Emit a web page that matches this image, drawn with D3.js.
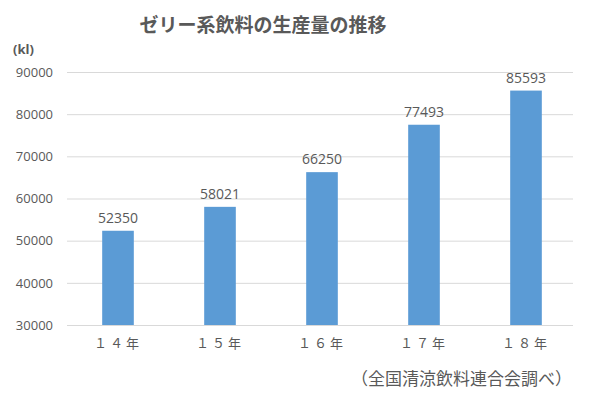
<!DOCTYPE html>
<html>
<head>
<meta charset="utf-8">
<script src="https://cdn.jsdelivr.net/npm/d3@7"></script>
<style>
  body { margin: 0; background: #fff; }
  text { font-family: "Noto Sans CJK JP", "Noto Sans", sans-serif; fill: #595959; }
</style>
</head>
<body>
<div class="chart"></div>
<script>
// data
var years = ["１４年", "１５年", "１６年", "１７年", "１８年"];
var volumes = [52350, 58021, 66250, 77493, 85593];
var yTicks = [30000, 40000, 50000, 60000, 70000, 80000, 90000];

var width = 600, height = 393;

var svg = d3.select(".chart").append("svg")
    .attr("width", width)
    .attr("height", height);

var data = years.map(function(y, i) { return {year: y, value: volumes[i]}; });

// scales
var x = d3.scaleBand()
    .range([67, 577])
    .domain(years)
    .paddingInner(0.69)
    .paddingOuter(0.345);

var y = d3.scaleLinear()
    .range([325, 72])
    .domain([30000, 90000]);

// gridlines
svg.append("g")
    .selectAll("line")
    .data(yTicks)
    .enter().append("line")
    .attr("x1", 67)
    .attr("x2", 573)
    .attr("y1", function(d) { return y(d) + 0.5; })
    .attr("y2", function(d) { return y(d) + 0.5; })
    .attr("stroke", "#d9d9d9")
    .attr("stroke-width", 1);

// y axis labels
var yAxis = svg.append("g")
    .attr("transform", "translate(60,0)")
    .call(d3.axisLeft(y).tickValues(yTicks).tickSize(0).tickPadding(7).tickFormat(d3.format("d")));
yAxis.select(".domain").remove();
yAxis.selectAll("text")
    .style("font-family", "'Open Sans', 'Noto Sans', sans-serif")
    .style("font-size", "13px")
    .attr("fill", "#595959");

// bars
svg.append("g")
    .selectAll("rect")
    .data(data)
    .enter().append("rect")
    .attr("x", function(d) { return x(d.year); })
    .attr("y", function(d) { return y(d.value); })
    .attr("width", x.bandwidth())
    .attr("height", function(d) { return y(30000) - y(d.value); })
    .attr("fill", "#5b9bd5");

// value labels
svg.append("g")
    .selectAll("text")
    .data(data)
    .enter().append("text")
    .attr("x", function(d) { return x(d.year) + x.bandwidth() / 2; })
    .attr("y", function(d) { return y(d.value) - 8; })
    .attr("text-anchor", "middle")
    .style("font-family", "'Open Sans', 'Noto Sans', sans-serif")
    .style("font-size", "14px")
    .attr("fill", "#404040")
    .text(function(d) { return d.value; });

// x axis labels
var xAxis = svg.append("g")
    .attr("transform", "translate(0,325)")
    .call(d3.axisBottom(x).tickSize(0).tickPadding(14));
xAxis.select(".domain").remove();
xAxis.selectAll("text")
    .style("font-size", "13px")
    .style("letter-spacing", "3px")
    .attr("fill", "#595959");

// title
svg.append("text")
    .attr("x", 263)
    .attr("y", 32)
    .attr("text-anchor", "middle")
    .style("font-size", "19px")
    .style("font-weight", "bold")
    .text("ゼリー系飲料の生産量の推移");

// unit
svg.append("text")
    .attr("x", 13)
    .attr("y", 54)
    .style("font-family", "'Open Sans', 'Noto Sans', sans-serif")
    .style("font-size", "13px")
    .style("font-weight", "bold")
    .attr("fill", "#404040")
    .text("(kl)");

// source note
svg.append("text")
    .attr("x", 572)
    .attr("y", 385)
    .attr("text-anchor", "end")
    .style("font-size", "17px")
    .attr("fill", "#404040")
    .text("（全国清涼飲料連合会調べ）");
</script>
</body>
</html>
